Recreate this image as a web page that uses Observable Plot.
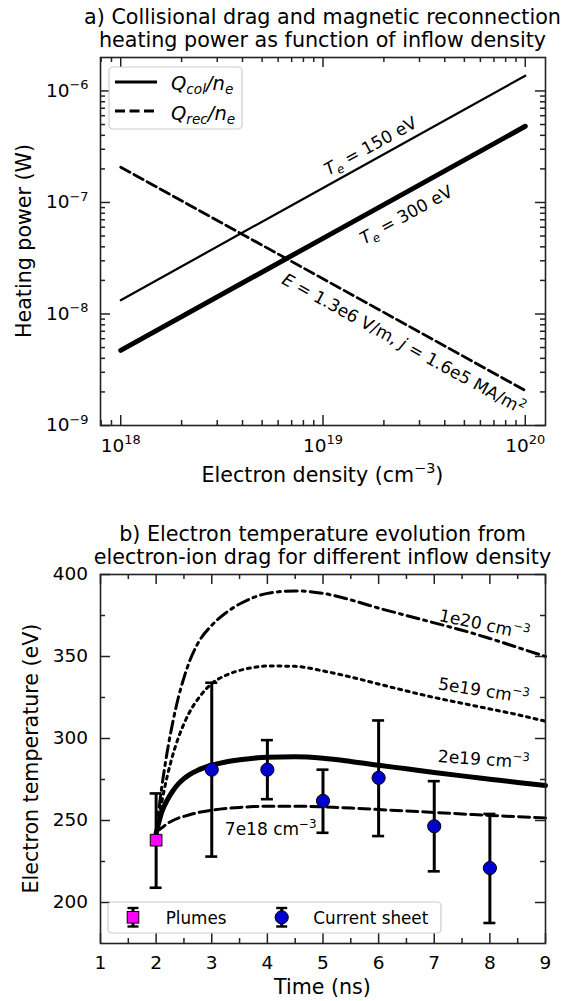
<!DOCTYPE html>
<html><head><meta charset="utf-8">
<script src="https://cdn.jsdelivr.net/npm/d3@7"></script>
<script src="https://cdn.jsdelivr.net/npm/@observablehq/plot@0.6"></script>
<style>
html,body{margin:0;padding:0;background:#fff;}
#fig{position:relative;width:579px;height:1001px;font-family:"DejaVu Sans",sans-serif;}
#fig svg{display:block;}
</style></head><body><div id="fig"></div>
<script>
// ---------- Panel a) data ----------
const density = [1e18, 1e19, 1e20];
const qCol150 = [1.33e-8, 1.35e-7, 1.37e-6];
const qCol300 = [4.72e-9, 4.77e-8, 4.82e-7];
const qRec = [2.07e-7, 2.07e-8, 2.06e-9];
const xMajorA = [1e18, 1e19, 1e20];
const yMajorA = [1e-9, 1e-8, 1e-7, 1e-6];
const annoTextA = ["$T_{e}$ = 150 eV", "$T_{e}$ = 300 eV", "$E$ = 1.3e6 V/m, $j$ = 1.6e5 MA/m^{2}"];
const annoXA = [1.72e19, 2.58e19, 2.5e19];
const annoYA = [3.19e-7, 7.7e-8, 5.37e-9];

// ---------- Panel b) data ----------
const time   = [2,   2.05, 2.1,  2.2,   2.3,  2.4,   2.5,   2.6,   2.75,  3,     3.25,  3.5,   3.75,  4,     4.5,   5,     5.5,   6,     6.5,   7,     7.5,   8,     8.5,   9];
const te1e20 = [243, 257,  270,  292,   310,  325,   337,   347,   358,   369,   376.5, 382,   386,   388.5, 390,   388.5, 384.5, 379.5, 375,   370.5, 366,   361,   355.5, 350];
const te5e19 = [243, 252,  261,  277,   290,  300.5, 309,   316,   324,   333.5, 338.5, 341.5, 343.3, 344.2, 344,   341.2, 337.5, 333.2, 329,   325,   321.5, 318,   314.5, 310.5];
const te2e19 = [242, 249,  255,  262.5, 268,  272.3, 275.5, 278,   280.7, 283.7, 285.7, 287,   288,   288.6, 288.8, 287.9, 286,   283.7, 281.5, 279.3, 277.2, 275.2, 273.2, 271.3];
const te7e18 = [243, 244.3,245.5,248,   250,  251.5, 252.5, 253.5, 254.8, 256.3, 257.3, 258,   258.5, 258.7, 258.7, 258.3, 257.6, 256.7, 255.8, 254.9, 254,   253.1, 252.3, 251.6];
const sheetTime = [3, 4, 5, 6, 7, 8];
const sheetTe = [281, 281, 262, 276, 246.5, 221];
const sheetLo = [228, 263, 242.5, 240.5, 219, 187.5];
const sheetHi = [334, 299, 281, 311, 274, 254];
const plumeTime = [2];
const plumeTe = [238];
const plumeLo = [209];
const plumeHi = [266.5];
const curveLabels = ["1e20 cm^{−3}", "5e19 cm^{−3}", "2e19 cm^{−3}", "7e18 cm^{−3}"];
const curveLabelT = [7.9, 7.89, 7.89, 4.06];
const curveLabelTe = [369.3, 328.9, 287.1, 244.5];
const xMajorB = [1, 2, 3, 4, 5, 6, 7, 8, 9];
const yMajorB = [200, 250, 300, 350, 400];

// ---------- helpers ----------
const SVGNS = "http://www.w3.org/2000/svg";
const INK = "#000";
const AX = "#222";
const FS_TICK = 18.5, FS_LABEL = 20.6, FS_TITLE = 20.7, FS_ANNO = 17, FS_LEG = 16.8;

function rich(el) {
  const s = el.textContent;
  if (!(s.includes("$") || s.includes("_{") || s.includes("^{"))) return;
  const fs = parseFloat(getComputedStyle(el).fontSize) || 16;
  const segs = [];
  let italic = false, mode = 0, buf = "";
  const push = () => { if (buf) segs.push({t: buf, italic, mode}); buf = ""; };
  for (let i = 0; i < s.length; i++) {
    const c = s[i];
    if (c === "$") { push(); italic = !italic; }
    else if ((c === "_" || c === "^") && s[i + 1] === "{") { push(); mode = c === "_" ? -1 : 1; i++; }
    else if (c === "}" && mode !== 0) { push(); mode = 0; }
    else buf += c;
  }
  push();
  while (el.firstChild) el.removeChild(el.firstChild);
  let off = 0;
  for (const g of segs) {
    const target = g.mode === 1 ? -0.42 * fs : g.mode === -1 ? 0.24 * fs : 0;
    const ts = document.createElementNS(SVGNS, "tspan");
    ts.setAttribute("dy", (target - off).toFixed(2));
    off = target;
    if (g.mode) ts.setAttribute("font-size", (0.7 * fs).toFixed(2));
    if (g.italic) ts.setAttribute("font-style", "italic");
    ts.textContent = g.t;
    el.appendChild(ts);
  }
}

function tickMarks(xMajor, xMinor, yMajor, yMinor, fh, fw) {
  const c = {stroke: AX, strokeWidth: 1.5};
  return [
    Plot.tickX(xMajor, {x: d => d, insetTop: fh - 10, ...c}),
    Plot.tickX(xMajor, {x: d => d, insetBottom: fh - 10, ...c}),
    Plot.tickX(xMinor, {x: d => d, insetTop: fh - 5, ...c}),
    Plot.tickX(xMinor, {x: d => d, insetBottom: fh - 5, ...c}),
    Plot.tickY(yMajor, {y: d => d, insetRight: fw - 10, ...c}),
    Plot.tickY(yMajor, {y: d => d, insetLeft: fw - 10, ...c}),
    Plot.tickY(yMinor, {y: d => d, insetRight: fw - 5, ...c}),
    Plot.tickY(yMinor, {y: d => d, insetLeft: fw - 5, ...c})
  ];
}

function addText(svg, x, y, str, opts = {}) {
  const t = svg.append("text")
    .attr("x", x).attr("y", y)
    .attr("font-size", opts.size || FS_LABEL)
    .attr("text-anchor", opts.anchor || "middle")
    .attr("fill", INK)
    .text(str);
  if (opts.rotate) t.attr("transform", `rotate(${opts.rotate},${x},${y})`);
  return t;
}

const pow = d => "10^{" + String(Math.round(Math.log10(d))).replace("-", "−") + "}";
const fig = document.getElementById("fig");

// ---------- Panel a ----------
const xDomA = [10 ** 17.9, 10 ** 20.1];
const yDomA = [1e-9, 10 ** -5.7];
const minorLog = (lo, hi, dom) => {
  const out = [];
  for (let e = lo; e <= hi; e++) for (let k = 2; k <= 9; k++) {
    const v = k * 10 ** e;
    if (v > dom[0] * 1.001 && v < dom[1] * 0.999) out.push(v);
  }
  return out;
};
const xMinorA = minorLog(17, 20, xDomA);
const yMinorA = minorLog(-10, -6, yDomA);

const rowsA = density.map((n, i) => ({n, c150: qCol150[i], c300: qCol300[i], rec: qRec[i]}));
const annoA = annoTextA.map((t, i) => ({t, x: annoXA[i], y: annoYA[i]}));

const HA = 500, MT_A = 57, MB_A = 75, ML = 100, MR = 34;
const plotA = Plot.plot({
  width: 579, height: HA,
  marginTop: MT_A, marginBottom: MB_A, marginLeft: ML, marginRight: MR,
  style: {fontFamily: "DejaVu Sans, sans-serif", color: INK, background: "white", overflow: "visible"},
  x: {type: "log", domain: xDomA},
  y: {type: "log", domain: yDomA},
  marks: [
    Plot.line(rowsA, {x: "n", y: "c150", stroke: INK, strokeWidth: 2.2}),
    Plot.line(rowsA, {x: "n", y: "c300", stroke: INK, strokeWidth: 5}),
    Plot.line(rowsA, {x: "n", y: "rec", stroke: INK, strokeWidth: 2.8, strokeDasharray: "10.5,4.5"}),
    Plot.text([annoA[0]], {x: "x", y: "y", text: "t", rotate: -28.8, fontSize: FS_ANNO, fill: INK}),
    Plot.text([annoA[1]], {x: "x", y: "y", text: "t", rotate: -28.8, fontSize: FS_ANNO, fill: INK}),
    Plot.text([annoA[2]], {x: "x", y: "y", text: "t", rotate: 28.8, fontSize: FS_ANNO, fill: INK}),
    ...tickMarks(xMajorA, xMinorA, yMajorA, yMinorA, HA - MT_A - MB_A, 579 - ML - MR),
    Plot.frame({stroke: AX, strokeWidth: 1.6}),
    Plot.axisX(xMajorA, {tickSize: 0, tickPadding: 13.6, tickFormat: pow, fontSize: FS_TICK, label: null}),
    Plot.axisY(yMajorA, {tickSize: 0, tickPadding: 12, tickFormat: pow, fontSize: FS_TICK, label: null})
  ]
});
fig.appendChild(plotA);
{
  const s = d3.select(plotA);
  addText(s, 322.5, 24, "a) Collisional drag and magnetic reconnection", {size: FS_TITLE});
  addText(s, 322.5, 47, "heating power as function of inflow density", {size: FS_TITLE});
  addText(s, 31, 241, "Heating power (W)", {rotate: -90});
  addText(s, 322.5, 482, "Electron density (cm^{−3})");
  // legend
  const g = s.append("g");
  g.append("rect").attr("x", 109).attr("y", 67).attr("width", 133).attr("height", 62).attr("rx", 4)
    .attr("fill", "white").attr("fill-opacity", 0.8).attr("stroke", "#cccccc").attr("stroke-width", 1.2);
  g.append("line").attr("x1", 115).attr("x2", 157).attr("y1", 82).attr("y2", 82).attr("stroke", INK).attr("stroke-width", 2.8);
  g.append("line").attr("x1", 115).attr("x2", 157).attr("y1", 111).attr("y2", 111).attr("stroke", INK).attr("stroke-width", 2.8).attr("stroke-dasharray", "10,4.5");
  addText(g, 171, 89.5, "$Q_{col}/n_{e}$", {anchor: "start", size: 19.5});
  addText(g, 171, 119.5, "$Q_{rec}/n_{e}$", {anchor: "start", size: 19.5});
}

// ---------- Panel b ----------
const HB = 501, MT_B = 74, MB_B = 58;
const rowsB = time.map((t, i) => ({t, a: te1e20[i], b: te5e19[i], c: te2e19[i], d: te7e18[i]}));
const sheet = sheetTime.map((t, i) => ({t, te: sheetTe[i], lo: sheetLo[i], hi: sheetHi[i]}));
const plume = plumeTime.map((t, i) => ({t, te: plumeTe[i], lo: plumeLo[i], hi: plumeHi[i]}));
const lab = curveLabels.map((s, i) => ({s, t: curveLabelT[i], te: curveLabelTe[i]}));
const xMinorB = [1.5, 2.5, 3.5, 4.5, 5.5, 6.5, 7.5, 8.5];
const yMinorB = [225, 275, 325, 375];
const err = (data) => [
  Plot.ruleX(data, {x: "t", y1: "lo", y2: "hi", stroke: INK, strokeWidth: 3}),
  Plot.ruleY(data, {y: "lo", x1: "t", x2: "t", insetLeft: -6, insetRight: -6, stroke: INK, strokeWidth: 2.6}),
  Plot.ruleY(data, {y: "hi", x1: "t", x2: "t", insetLeft: -6, insetRight: -6, stroke: INK, strokeWidth: 2.6})
];
const plotB = Plot.plot({
  width: 579, height: HB,
  marginTop: MT_B, marginBottom: MB_B, marginLeft: ML, marginRight: MR,
  style: {fontFamily: "DejaVu Sans, sans-serif", color: INK, background: "white", overflow: "visible"},
  x: {domain: [1, 9]},
  y: {domain: [175, 400]},
  marks: [
    Plot.line(rowsB, {x: "t", y: "a", curve: "monotone-x", stroke: INK, strokeWidth: 3, strokeDasharray: "12,5,3,5"}),
    Plot.line(rowsB, {x: "t", y: "b", curve: "monotone-x", stroke: INK, strokeWidth: 3, strokeDasharray: "3,4.7"}),
    Plot.line(rowsB, {x: "t", y: "c", curve: "monotone-x", stroke: INK, strokeWidth: 5}),
    Plot.line(rowsB, {x: "t", y: "d", curve: "monotone-x", stroke: INK, strokeWidth: 3, strokeDasharray: "11,5"}),
    Plot.text([lab[0]], {x: "t", y: "te", text: "s", rotate: 12, fontSize: FS_ANNO, fill: INK}),
    Plot.text([lab[1]], {x: "t", y: "te", text: "s", rotate: 9, fontSize: FS_ANNO, fill: INK}),
    Plot.text([lab[2]], {x: "t", y: "te", text: "s", rotate: 4, fontSize: FS_ANNO, fill: INK}),
    Plot.text([lab[3]], {x: "t", y: "te", text: "s", fontSize: FS_ANNO, fill: INK}),
    ...err(plume),
    ...err(sheet),
    Plot.dot(plume, {x: "t", y: "te", symbol: "square", r: 6.6, fill: "#ff00ff", stroke: INK, strokeWidth: 1}),
    Plot.dot(sheet, {x: "t", y: "te", r: 6.6, fill: "#0000cd", stroke: INK, strokeWidth: 1}),
    ...tickMarks(xMajorB, xMinorB, yMajorB, yMinorB, HB - MT_B - MB_B, 579 - ML - MR),
    Plot.frame({stroke: AX, strokeWidth: 1.6}),
    Plot.axisX(xMajorB, {tickSize: 0, tickPadding: 12, tickFormat: d => String(d), fontSize: FS_TICK, label: null}),
    Plot.axisY(yMajorB, {tickSize: 0, tickPadding: 12.5, tickFormat: d => String(d), fontSize: FS_TICK, label: null})
  ]
});
fig.appendChild(plotB);
{
  const s = d3.select(plotB);
  addText(s, 322.5, 40.7, "b) Electron temperature evolution from", {size: FS_TITLE});
  addText(s, 322.5, 63.5, "electron-ion drag for different inflow density", {size: FS_TITLE});
  addText(s, 38, 258.5, "Electron temperature (eV)", {rotate: -90});
  addText(s, 322.5, 494, "Time (ns)");
  const g = s.append("g");
  g.append("rect").attr("x", 108).attr("y", 402).attr("width", 333).attr("height", 31).attr("rx", 4)
    .attr("fill", "white").attr("fill-opacity", 0.8).attr("stroke", "#cccccc").attr("stroke-width", 1.2);
  const legItem = (cx, isSquare, fill) => {
    g.append("line").attr("x1", cx).attr("x2", cx).attr("y1", 408).attr("y2", 426.5).attr("stroke", INK).attr("stroke-width", 3);
    g.append("line").attr("x1", cx - 5.5).attr("x2", cx + 5.5).attr("y1", 408).attr("y2", 408).attr("stroke", INK).attr("stroke-width", 2.4);
    g.append("line").attr("x1", cx - 5.5).attr("x2", cx + 5.5).attr("y1", 426.5).attr("y2", 426.5).attr("stroke", INK).attr("stroke-width", 2.4);
    if (isSquare) g.append("rect").attr("x", cx - 5.8).attr("y", 417.3 - 5.8).attr("width", 11.6).attr("height", 11.6).attr("fill", fill).attr("stroke", INK);
    else g.append("circle").attr("cx", cx).attr("cy", 417.3).attr("r", 6.6).attr("fill", fill).attr("stroke", INK);
  };
  legItem(133, true, "#ff00ff");
  legItem(281.7, false, "#0000cd");
  addText(g, 165.7, 424, "Plumes", {anchor: "start", size: FS_LEG});
  addText(g, 313.3, 424, "Current sheet", {anchor: "start", size: FS_LEG});
}

fig.querySelectorAll("text").forEach(rich);
</script>
</body></html>
